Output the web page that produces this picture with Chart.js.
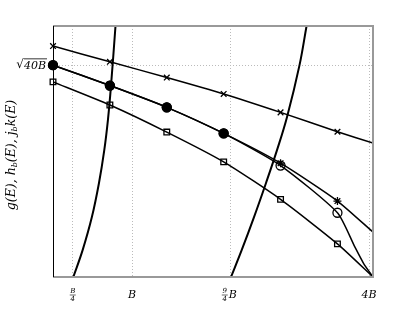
<!DOCTYPE html>
<html>
<head>
<meta charset="utf-8">
<script src="https://cdn.jsdelivr.net/npm/chart.js@4.4.1/dist/chart.umd.min.js"></script>
<style>
  body { margin: 0; background: #fff; }
</style>
</head>
<body>
<canvas id="myChart" width="415" height="312"></canvas>
<script>
// E in units of B, values in units of sqrt(B)
const markerE = [0, 0.72, 1.44, 2.16, 2.88, 3.6];
const gCross = [6.90, 6.43, 5.96, 5.47, 4.92, 4.34];
const gFilled = [6.33, 5.72, 5.07, 4.29];
const hStar = [6.33, 5.72, 5.07, 4.29, 3.40, 2.27];
const hOpen = [6.33, 5.72, 5.07, 4.29, 3.33, 1.92];
const jSquare = [5.83, 5.14, 4.33, 3.44, 2.32, 0.99];

// line tails past the last marker
const crossTailE = [4.05];
const crossTail = [4.00];
const starTailE = [4.05];
const starTail = [1.34];
const openTailE = [3.82, 3.93, 4.05];
const openTail = [0.90, 0.41, 0];
const squareTailE = [4.05];
const squareTail = [0];

// the two steep curves
const curveAE = [0.257, 0.376, 0.492, 0.582, 0.649, 0.695, 0.734, 0.791];
const curveAV = [0, 0.81, 1.79, 2.81, 3.79, 4.69, 5.71, 7.5];
const curveBE = [2.253, 2.389, 2.544, 2.696, 2.835, 2.962, 3.120, 3.209];
const curveBV = [0, 0.81, 1.79, 2.81, 3.79, 4.78, 6.33, 7.5];

const xTicks = [0.25, 1, 2.25, 4];
const yTicks = [Math.sqrt(40)];

function pts(es, vs) {
    return es.map((e, i) => ({ x: e, y: vs[i] }));
}
function lineSet(es, vs, w, t) {
    return {
        data: pts(es, vs),
        showLine: true,
        borderColor: '#000',
        borderWidth: w,
        pointRadius: 0,
        fill: false,
        tension: t,
        order: 2
    };
}
function markSet(vs, style, r, bg) {
    return {
        data: pts(markerE.slice(0, vs.length), vs),
        showLine: false,
        pointStyle: style,
        pointRadius: r,
        pointBorderColor: '#000',
        pointBackgroundColor: bg,
        pointBorderWidth: 1.3,
        clip: false,
        order: 1
    };
}

const extras = {
    id: 'extras',
    afterDraw(chart) {
        const ctx = chart.ctx;
        const a = chart.chartArea;
        const xs = chart.scales.x;
        const ys = chart.scales.y;
        ctx.save();
        // frame
        ctx.strokeStyle = '#999';
        ctx.lineWidth = 2;
        ctx.beginPath();
        ctx.moveTo(a.left, a.top);
        ctx.lineTo(a.right, a.top);
        ctx.lineTo(a.right, a.bottom);
        ctx.lineTo(a.left, a.bottom);
        ctx.stroke();
        ctx.strokeStyle = '#000';
        ctx.lineWidth = 1;
        ctx.beginPath();
        ctx.moveTo(a.left + 0.5, a.top);
        ctx.lineTo(a.left + 0.5, a.bottom);
        ctx.stroke();

        ctx.fillStyle = '#000';
        ctx.textAlign = 'center';
        ctx.textBaseline = 'middle';

        function frac(num, den, x, y) {
            ctx.font = 'italic 7px "DejaVu Serif"';
            ctx.fillText(num, x, y - 4);
            ctx.fillText(den, x, y + 4);
            ctx.lineWidth = 0.6;
            ctx.beginPath();
            ctx.moveTo(x - 3, y);
            ctx.lineTo(x + 3, y);
            ctx.stroke();
        }
        const ty = 295;
        frac('B', '4', xs.getPixelForValue(0.25), ty);
        ctx.font = 'italic 11px "DejaVu Serif"';
        ctx.fillText('B', xs.getPixelForValue(1), ty);
        frac('9', '4', xs.getPixelForValue(2.25) - 6, ty);
        ctx.font = 'italic 11px "DejaVu Serif"';
        ctx.fillText('B', xs.getPixelForValue(2.25) + 2, ty);
        ctx.fillText('4B', xs.getPixelForValue(4), ty);

        // sqrt(40B)
        const yy = ys.getPixelForValue(yTicks[0]);
        ctx.font = 'italic 11px "DejaVu Serif"';
        ctx.textAlign = 'right';
        ctx.fillText('40B', 46, yy + 1);
        const w = ctx.measureText('40B').width;
        ctx.font = '12px "DejaVu Serif"';
        ctx.fillText('\u221A', 46 - w, yy);
        ctx.lineWidth = 0.8;
        ctx.beginPath();
        ctx.moveTo(46 - w, yy - 6.5);
        ctx.lineTo(47, yy - 6.5);
        ctx.stroke();

        // rotated axis title with subscripts
        ctx.translate(12, 155);
        ctx.rotate(-Math.PI / 2);
        const parts = [
            ['g(E), h', 0], ['b', 1], ['(E), j', 0], ['b', 1], ['k(E)', 0]
        ];
        let total = 0;
        parts.forEach(p => {
            ctx.font = p[1] ? 'italic 8px "DejaVu Serif"' : 'italic 12.5px "DejaVu Serif"';
            total += ctx.measureText(p[0]).width;
        });
        let cx = -total / 2;
        ctx.textAlign = 'left';
        parts.forEach(p => {
            ctx.font = p[1] ? 'italic 8px "DejaVu Serif"' : 'italic 12.5px "DejaVu Serif"';
            ctx.fillText(p[0], cx, p[1] ? 3 : 0);
            cx += ctx.measureText(p[0]).width;
        });
        ctx.restore();
    }
};

new Chart(document.getElementById('myChart'), {
    type: 'scatter',
    data: {
        datasets: [
            lineSet(markerE.concat(crossTailE), gCross.concat(crossTail), 1.5, 0.2),
            lineSet(markerE.concat(starTailE), hStar.concat(starTail), 1.5, 0.2),
            lineSet(markerE.concat(openTailE), hOpen.concat(openTail), 1.5, 0.2),
            lineSet(markerE.concat(squareTailE), jSquare.concat(squareTail), 1.5, 0.2),
            lineSet(curveAE, curveAV, 2, 0.4),
            lineSet(curveBE, curveBV, 2, 0.4),
            markSet(gCross, 'crossRot', 4, '#000'),
            markSet(gFilled, 'circle', 4.5, '#000'),
            markSet(hStar, 'star', 4, '#000'),
            markSet(hOpen, 'circle', 4.5, 'rgba(255,255,255,0)'),
            markSet(jSquare, 'rect', 4, 'rgba(255,255,255,0)')
        ]
    },
    options: {
        responsive: false,
        animation: false,
        layout: { padding: { left: 53, top: 26, right: 42, bottom: 35 } },
        plugins: { legend: { display: false }, tooltip: { enabled: false } },
        scales: {
            x: {
                type: 'linear',
                min: 0,
                max: 4.05,
                afterBuildTicks: s => { s.ticks = xTicks.map(v => ({ value: v })); },
                ticks: { display: false },
                border: { display: false, dash: [1, 2] },
                grid: { color: '#bbb', drawTicks: false, lineWidth: 1 }
            },
            y: {
                type: 'linear',
                min: 0,
                max: 7.5,
                afterBuildTicks: s => { s.ticks = yTicks.map(v => ({ value: v })); },
                ticks: { display: false },
                border: { display: false, dash: [1, 2] },
                grid: { color: '#bbb', drawTicks: false, lineWidth: 1 }
            }
        }
    },
    plugins: [extras]
});
</script>
</body>
</html>
